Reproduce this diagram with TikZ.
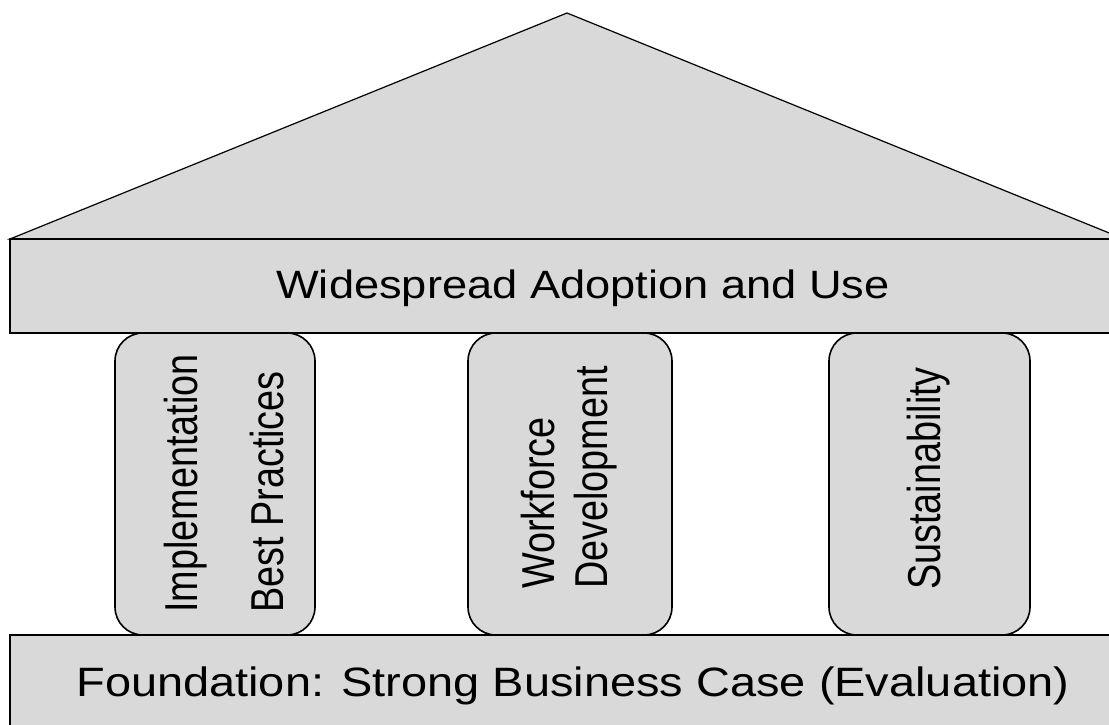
\documentclass[tikz,border=0pt]{standalone}
\usepackage{fontspec}
\setmainfont{Liberation Sans}
\definecolor{hgray}{RGB}{217,217,217}
\begin{document}
\begin{tikzpicture}[x=1pt,y=-1pt,
  part/.style={draw=black, line width=1.6pt, fill=hgray, inner sep=0pt},
  pillar/.style={part, rounded corners=28pt, minimum height=302pt},
  ptext/.style={xscale=1.22, rotate=90, align=left, anchor=west, inner sep=0pt},
  btext/.style={xscale=1.145, inner sep=0pt, anchor=base},
]
\useasboundingbox (0,0) rectangle (1109,725);
\clip (0,0) rectangle (1109,725);
\fill[white] (0,0) rectangle (1109,725);
% roof
\coordinate (roofL) at (10,239);
\coordinate (apex) at (567,13);
\coordinate (roofR) at (1124,239);
\filldraw[part, line width=1.2pt] (roofL) -- (apex) -- (roofR) -- cycle;
% pillars
\node[pillar, minimum width=200pt] (p1) at (215,484) {};
\node[pillar, minimum width=204pt] (p2) at (570,484) {};
\node[pillar, minimum width=201pt] (p3) at (929.5,484) {};
% banner and foundation
\node[part, minimum width=1114pt, minimum height=94pt] (banner) at (567,286) {};
\node[part, minimum width=1114pt, minimum height=120pt] (found) at (567,695) {};
% texts
\node[btext, font=\fontsize{39.5}{47}\selectfont] (btxt) at (583,298) {Widespread Adoption and Use};
\node[btext, font=\fontsize{41}{49}\selectfont] (ftxt) at (573,696) {Foundation: Strong Business Case (Evaluation)};
\node[ptext, font=\fontsize{37.8}{70}\selectfont] (t1) at (224,613) {Implementation\\Best Practices};
\node[ptext, font=\fontsize{37.8}{43}\selectfont] (t2) at (569,589) {Workforce\\Development};
\node[ptext, font=\fontsize{37.8}{45}\selectfont] (t3) at (929,590) {Sustainability};
\end{tikzpicture}
\end{document}
